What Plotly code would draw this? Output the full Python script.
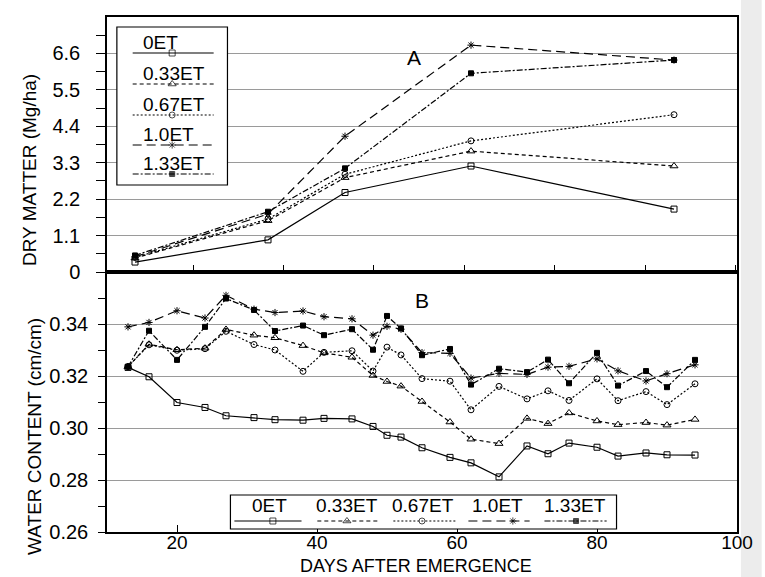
import plotly.graph_objects as go

# ---------------- data ----------------
SERIES = ["0ET", "0.33ET", "0.67ET", "1.0ET", "1.33ET"]

# Panel A: dry matter (Mg/ha)
DM_DAYS = [14, 33, 44, 62, 91]
DM_0ET = [0.30, 0.97, 2.40, 3.20, 1.90]
DM_033ET = [0.42, 1.55, 2.85, 3.65, 3.20]
DM_067ET = [0.44, 1.60, 2.95, 3.96, 4.75]
DM_10ET = [0.46, 1.75, 4.10, 6.85, 6.40]
DM_133ET = [0.50, 1.82, 3.13, 6.00, 6.40]

# Panel B: water content (cm/cm)
WC_DAYS = [13, 16, 20, 24, 27, 31, 34, 38, 41, 45, 48, 50, 52, 55, 59, 62, 66,
           70, 73, 76, 80, 83, 87, 90, 94]
WC_0ET = [0.3233, 0.3197, 0.3098, 0.3079, 0.3047, 0.3040, 0.3032, 0.3030, 0.3037,
          0.3035, 0.3006, 0.2972, 0.2965, 0.2924, 0.2887, 0.2866, 0.2812, 0.2931,
          0.2901, 0.2942, 0.2926, 0.2892, 0.2904, 0.2897, 0.2896]
WC_033ET = [0.3236, 0.3322, 0.3301, 0.3307, 0.3379, 0.3357, 0.3347, 0.3317, 0.3289,
            0.3272, 0.3202, 0.3179, 0.3161, 0.3102, 0.3023, 0.2957, 0.2940, 0.3037,
            0.3017, 0.3058, 0.3027, 0.3013, 0.3021, 0.3011, 0.3033]
WC_067ET = [0.3236, 0.3320, 0.3299, 0.3305, 0.3372, 0.3321, 0.3300, 0.3218, 0.3291,
            0.3297, 0.3219, 0.3311, 0.3281, 0.3190, 0.3180, 0.3070, 0.3160, 0.3112,
            0.3143, 0.3106, 0.3189, 0.3105, 0.3140, 0.3090, 0.3170]
WC_10ET = [0.3389, 0.3406, 0.3451, 0.3423, 0.3510, 0.3457, 0.3444, 0.3450, 0.3428,
           0.3420, 0.3357, 0.3391, 0.3380, 0.3290, 0.3287, 0.3192, 0.3210, 0.3206,
           0.3234, 0.3237, 0.3266, 0.3220, 0.3181, 0.3209, 0.3243]
WC_133ET = [0.3236, 0.3374, 0.3262, 0.3389, 0.3498, 0.3454, 0.3373, 0.3394, 0.3357,
            0.3380, 0.3301, 0.3431, 0.3383, 0.3280, 0.3304, 0.3167, 0.3228, 0.3215,
            0.3263, 0.3172, 0.3289, 0.3163, 0.3219, 0.3157, 0.3262]

DM_TICKS = [0, 1.1, 2.2, 3.3, 4.4, 5.5, 6.6]
DM_TICKTEXT = ["0", "1.1", "2.2", "3.3", "4.4", "5.5", "6.6"]
DM_MINOR = [0.55, 1.65, 2.75, 3.85, 4.95, 6.05, 7.15]
WC_TICKS = [0.26, 0.28, 0.30, 0.32, 0.34]
WC_TICKTEXT = ["0.26", "0.28", "0.30", "0.32", "0.34"]
WC_MINOR = [0.27, 0.29, 0.31, 0.33, 0.35]
X_TICKS = [20, 40, 60, 80, 100]
X_TICKTEXT = ["20", "40", "60", "80", "100"]

DM = {"0ET": DM_0ET, "0.33ET": DM_033ET, "0.67ET": DM_067ET,
      "1.0ET": DM_10ET, "1.33ET": DM_133ET}
WC = {"0ET": WC_0ET, "0.33ET": WC_033ET, "0.67ET": WC_067ET,
      "1.0ET": WC_10ET, "1.33ET": WC_133ET}

# ---------------- styles ----------------
FONT = "Liberation Sans, Arial, Helvetica, sans-serif"
STYLE = {
    "0ET": dict(dash="solid", symbol="square-open", size=6),
    "0.33ET": dict(dash="4px,3px", symbol="triangle-up-open", size=7),
    "0.67ET": dict(dash="2px,2px", symbol="circle-open", size=6),
    "1.0ET": dict(dash="9px,5px", symbol="asterisk-open", size=6),
    "1.33ET": dict(dash="6px,2px,2px,2px", symbol="square", size=5),
}

W, H = 765, 577
ML, MR, MT, MB = 107, 20, 17, 45
PX0, PX1 = ML, W - MR          # plot area in pixels
PY0, PY1 = MT, H - MB
SPLIT_PX = 272
split = (PY1 - SPLIT_PX) / (PY1 - PY0)


def px(x):
    return (x - PX0) / (PX1 - PX0)


def py(y):
    return (PY1 - y) / (PY1 - PY0)


fig = go.Figure()


def line_style(name):
    s = STYLE[name]
    return dict(color="black", width=1.2, dash=s["dash"])


def marker_style(name, size=None):
    s = STYLE[name]
    return dict(symbol=s["symbol"], size=size if size is not None else s["size"],
                color="black", line=dict(color="black", width=1))


for name in SERIES:
    fig.add_trace(go.Scatter(x=DM_DAYS, y=DM[name], mode="lines+markers", name=name,
                             line=line_style(name), marker=marker_style(name),
                             xaxis="x2", yaxis="y2", showlegend=False))
for name in SERIES:
    fig.add_trace(go.Scatter(x=WC_DAYS, y=WC[name], mode="lines+markers", name=name,
                             line=line_style(name), marker=marker_style(name),
                             xaxis="x", yaxis="y", showlegend=False))

# ---------------- custom legends (pixel-coordinate overlay axes) ----------------
LEG_A_BOX = (117, 229, 27, 185)
LEG_A_LINE_X = (133, 215)
LEG_A_MARK_X = 173
LEG_A_TEXT_X = 141
LEG_A_LINE_Y = [53, 84, 115, 145, 174]

LEG_B_BOX = (232, 623, 495, 529)
LEG_B_TEXT_Y = 505
LEG_B_LINE_Y = 521
LEG_B_LINES = [(236, 304), (320, 381), (397, 460), (473, 535), (550, 613)]
LEG_B_MARK_X = [275, 350, 426, 518, 582]
LEG_B_TEXT_X = [272, 350, 427, 502, 581]

shapes = []
annotations = []
for (x0, x1, y0, y1) in (LEG_A_BOX, LEG_B_BOX):
    shapes.append(dict(type="rect", xref="x3", yref="y3", x0=x0, x1=x1, y0=y0, y1=y1,
                       fillcolor="white", line=dict(color="black", width=1.2),
                       layer="between"))

for i, name in enumerate(SERIES):
    ly = LEG_A_LINE_Y[i]
    fig.add_trace(go.Scatter(x=[LEG_A_LINE_X[0], LEG_A_MARK_X, LEG_A_LINE_X[1]],
                             y=[ly, ly, ly], mode="lines+markers",
                             line=line_style(name),
                             marker=marker_style(name, [0, STYLE[name]["size"], 0]),
                             xaxis="x3", yaxis="y3", showlegend=False, hoverinfo="skip"))
    annotations.append(dict(x=LEG_A_TEXT_X, y=ly - 11, xref="x3", yref="y3",
                            text=name, showarrow=False, xanchor="left", yanchor="middle",
                            font=dict(family=FONT, size=19, color="black")))
    bx0, bx1 = LEG_B_LINES[i]
    fig.add_trace(go.Scatter(x=[bx0, LEG_B_MARK_X[i], bx1],
                             y=[LEG_B_LINE_Y] * 3, mode="lines+markers",
                             line=line_style(name),
                             marker=marker_style(name, [0, STYLE[name]["size"], 0]),
                             xaxis="x3", yaxis="y3", showlegend=False, hoverinfo="skip"))
    annotations.append(dict(x=LEG_B_TEXT_X[i], y=LEG_B_TEXT_Y, xref="x3", yref="y3",
                            text=name, showarrow=False, xanchor="center", yanchor="middle",
                            font=dict(family=FONT, size=19, color="black")))

# panel letters and axis titles (paper coordinates, converted from pixels)
annotations += [
    dict(x=px(418), y=py(44), xref="paper", yref="paper", text="A", showarrow=False,
         font=dict(family=FONT, size=21, color="black")),
    dict(x=px(426), y=py(300), xref="paper", yref="paper", text="B", showarrow=False,
         font=dict(family=FONT, size=21, color="black")),
    dict(x=px(28), y=py(170), xref="paper", yref="paper", text="DRY MATTER (Mg/ha)",
         textangle=-90, showarrow=False, xanchor="center", yanchor="middle",
         font=dict(family=FONT, size=19, color="black")),
    dict(x=px(33), y=py(436), xref="paper", yref="paper", text="WATER CONTENT (cm/cm)",
         textangle=-90, showarrow=False, xanchor="center", yanchor="middle",
         font=dict(family=FONT, size=19, color="black")),
    dict(x=px(420), y=py(566), xref="paper", yref="paper", text="DAYS AFTER EMERGENCE",
         showarrow=False, xanchor="center", yanchor="middle", borderpad=0,
         font=dict(family=FONT, size=18, color="black")),
]

# light scanned margin on the right
shapes.append(dict(type="rect", xref="paper", yref="paper", x0=px(749), x1=px(770),
                   y0=py(H + 5), y1=py(-5), fillcolor="#ececec", line=dict(width=0),
                   layer="below"))

axis_common = dict(showline=True, mirror=True, linecolor="black", linewidth=1.5,
                   zeroline=False, tickcolor="black", tickwidth=1.2,
                   tickfont=dict(family=FONT, size=20, color="black"))
GRID = dict(showgrid=True, gridcolor="#9a9a9a", gridwidth=1)

xfont = dict(family=FONT, size=19, color="black")

fig.update_layout(
    width=W, height=H,
    margin=dict(l=ML, r=MR, t=MT, b=MB, pad=0),
    paper_bgcolor="white", plot_bgcolor="rgba(0,0,0,0)",
    showlegend=False,
    font=dict(family=FONT, color="black"),
    xaxis=dict(domain=[0, 1], anchor="y", range=[10, 100], tickmode="array",
               tickvals=X_TICKS, ticktext=X_TICKTEXT, ticks="inside", ticklen=7,
               ticklabelstandoff=-8, showgrid=False,
               **{**axis_common, "tickfont": xfont}),
    xaxis2=dict(domain=[0, 1], anchor="y2", range=[10, 100], tickmode="linear",
                tick0=22.3, dtick=12.92, ticks="inside", ticklen=7,
                showticklabels=False, showgrid=False, **axis_common),
    yaxis=dict(domain=[0, split], anchor="x", range=[0.26, 0.36], tickmode="array",
               tickvals=WC_TICKS, ticktext=WC_TICKTEXT, ticks="outside", ticklen=7,
               ticklabelstandoff=6,
               minor=dict(tickmode="array", tickvals=WC_MINOR, ticks="outside",
                          ticklen=7, tickcolor="black", showgrid=False),
               **GRID, **axis_common),
    yaxis2=dict(domain=[split, 1], anchor="x2", range=[0, 7.7], tickmode="array",
                tickvals=DM_TICKS, ticktext=DM_TICKTEXT, ticks="outside", ticklen=9,
                ticklabelstandoff=12,
                minor=dict(tickmode="array", tickvals=DM_MINOR, ticks="outside",
                           ticklen=9, tickcolor="black", showgrid=False),
                **GRID, **axis_common),
    xaxis3=dict(domain=[0, 1], anchor="y3", range=[PX0, PX1], visible=False,
                fixedrange=True),
    yaxis3=dict(domain=[0, 1], anchor="x3", range=[PY1, PY0], visible=False,
                fixedrange=True),
    shapes=shapes,
    annotations=annotations,
)

# remove the browser's default 8px body margin so the figure fills the window exactly
fig.write_html("out.html", config={"displayModeBar": False},
               post_script="document.body.style.margin='0';"
                           "document.body.style.overflow='hidden';")
